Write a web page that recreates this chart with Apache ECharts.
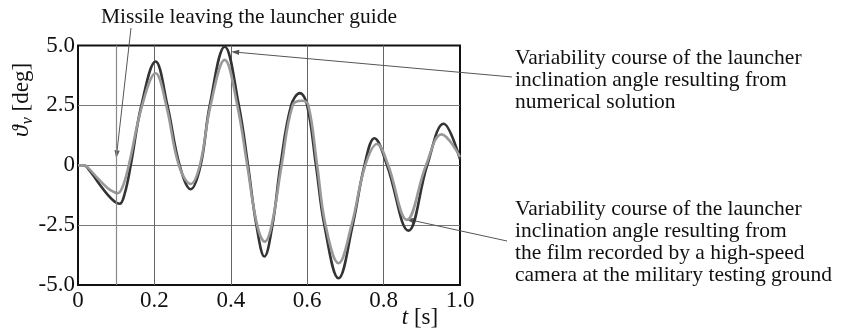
<!DOCTYPE html>
<html>
<head>
<meta charset="utf-8">
<script src="https://cdn.jsdelivr.net/npm/echarts@6/dist/echarts.min.js"></script>
<style>
html, body { margin: 0; padding: 0; background: #fff; }
#main { width: 866px; height: 331px; }
</style>
</head>
<body>
<div id="main"></div>
<script>
// numerical solution (dark curve)
var numT = [0, 0.015, 0.026, 0.052, 0.078, 0.096, 0.109, 0.122, 0.138, 0.166, 0.203, 0.234, 0.266, 0.295, 0.321, 0.345, 0.384, 0.421, 0.445, 0.467, 0.488, 0.509, 0.530, 0.558, 0.581, 0.600, 0.623, 0.645, 0.682, 0.719, 0.750, 0.776, 0.809, 0.865, 0.914, 0.957, 1.0];
var numV = [0, 0, -0.13, -0.7, -1.24, -1.52, -1.61, -1.2, 0, 2.5, 4.33, 2.5, 0, -1.0, 0, 2.5, 4.95, 2.5, 0, -2.5, -3.81, -2.5, 0, 2.5, 3.01, 2.5, 0, -2.5, -4.72, -2.5, 0, 1.13, 0, -2.73, 0, 1.73, 0.25];
// film recorded by the high-speed camera (light curve)
var filmT = [0, 0.015, 0.026, 0.052, 0.078, 0.092, 0.104, 0.118, 0.133, 0.168, 0.203, 0.231, 0.264, 0.295, 0.319, 0.347, 0.384, 0.417, 0.443, 0.469, 0.489, 0.507, 0.533, 0.562, 0.586, 0.603, 0.626, 0.648, 0.682, 0.716, 0.752, 0.783, 0.812, 0.861, 0.911, 0.952, 1.0];
var filmV = [0, 0, -0.1, -0.55, -0.96, -1.1, -1.17, -0.85, 0, 2.5, 3.84, 2.5, 0, -0.78, 0, 2.5, 4.40, 2.5, 0, -2.5, -3.19, -2.5, 0, 2.5, 2.69, 2.5, 0, -2.5, -4.09, -2.5, 0, 0.89, 0, -2.28, 0, 1.29, 0.35];
var xTicks = [0, 0.2, 0.4, 0.6, 0.8, 1.0];
var yTicks = [-5, -2.5, 0, 2.5, 5];
var launchT = 0.1; // missile leaving the guide

var FONT = '"Liberation Serif", "DejaVu Serif", serif';

function pairs(t, v) {
  return t.map(function (x, i) { return [x, v[i]]; });
}

var chart = echarts.init(document.getElementById('main'));

var option = {
  animation: false,
  grid: {
    left: 78, right: 406, top: 45.5, bottom: 46,
    show: true, borderColor: '#111', borderWidth: 2, backgroundColor: 'transparent'
  },
  xAxis: {
    type: 'value', min: xTicks[0], max: xTicks[xTicks.length - 1], interval: 0.2,
    axisLine: { show: false }, axisTick: { show: false },
    splitLine: { show: true, showMinLine: false, showMaxLine: false, lineStyle: { color: '#666', width: 1 } },
    axisLabel: {
      margin: 4, color: '#111', fontFamily: FONT, fontSize: 23,
      formatter: function (v) { return v === 0 ? '0' : v.toFixed(1); }
    }
  },
  yAxis: {
    type: 'value', min: yTicks[0], max: yTicks[yTicks.length - 1], interval: 2.5,
    axisLine: { show: false }, axisTick: { show: false },
    splitLine: { show: true, showMinLine: false, showMaxLine: false, lineStyle: { color: '#777', width: 1 } },
    axisLabel: {
      margin: 3, color: '#111', fontFamily: FONT, fontSize: 23,
      formatter: function (v) { return v === 0 ? '0' : v.toFixed(1); }
    }
  },
  series: [
    {
      type: 'line', data: pairs(numT, numV), smooth: 0.4, showSymbol: false,
      lineStyle: { color: '#333', width: 2.6 },
      markLine: {
        silent: true, symbol: 'none', label: { show: false },
        lineStyle: { color: '#888', type: 'solid', width: 1.2 },
        data: [{ xAxis: launchT }]
      }
    },
    {
      type: 'line', data: pairs(filmT, filmV), smooth: 0.4, showSymbol: false,
      lineStyle: { color: '#999', width: 2.6 }
    }
  ]
};
chart.setOption(option);

// annotations: arrow tips are placed in data space
function arrow(from, tipData) {
  var tip = chart.convertToPixel({ gridIndex: 0 }, tipData);
  var dx = tip[0] - from[0], dy = tip[1] - from[1];
  var len = Math.sqrt(dx * dx + dy * dy);
  var ux = dx / len, uy = dy / len;
  var hl = 8, hw = 2.6;
  var bx = tip[0] - ux * hl, by = tip[1] - uy * hl;
  return [
    { type: 'line', silent: true, shape: { x1: from[0], y1: from[1], x2: bx, y2: by },
      style: { stroke: '#555', lineWidth: 1 } },
    { type: 'polygon', silent: true,
      shape: { points: [tip, [bx - uy * hw, by + ux * hw], [bx + uy * hw, by - ux * hw]] },
      style: { fill: '#555' } }
  ];
}

function label(x, y, text, align) {
  return {
    type: 'text', silent: true, x: x, y: y,
    style: {
      text: text, fill: '#111', font: '21.5px ' + FONT,
      textAlign: align || 'left', textVerticalAlign: 'middle', lineHeight: 22
    }
  };
}

var g = [];
g.push(label(249, 17, 'Missile leaving the launcher guide', 'center'));
g = g.concat(arrow([131, 28], [launchT, 0.29]));
g.push(label(515, 80, 'Variability course of the launcher\ninclination angle resulting from\nnumerical solution'));
g = g.concat(arrow([512, 77], [0.401, 4.74]));
g.push(label(515, 242, 'Variability course of the launcher\ninclination angle resulting from\nthe film recorded by a high-speed\ncamera at the military testing ground'));
g = g.concat(arrow([507, 241], [0.858, -2.24]));
// axis names
g.push({
  type: 'text', silent: true, x: 22, y: 100, rotation: Math.PI / 2,
  style: {
    text: '{i|ϑ}{s|v} [deg]', fill: '#111', font: '23px ' + FONT,
    textAlign: 'center', textVerticalAlign: 'middle',
    rich: {
      i: { fontStyle: 'italic', fontSize: 24, fontFamily: FONT, lineHeight: 28, verticalAlign: 'middle' },
      s: { fontStyle: 'italic', fontSize: 16, fontFamily: FONT, lineHeight: 28, verticalAlign: 'bottom', padding: [8, 0, 0, 1] }
    }
  }
});
g.push({
  type: 'text', silent: true, x: 420, y: 318,
  style: {
    text: '{i|t} [s]', fill: '#111', font: '23px ' + FONT,
    textAlign: 'center', textVerticalAlign: 'middle',
    rich: { i: { fontStyle: 'italic', fontSize: 23, fontFamily: FONT } }
  }
});
chart.setOption({ graphic: g });
</script>
</body>
</html>
